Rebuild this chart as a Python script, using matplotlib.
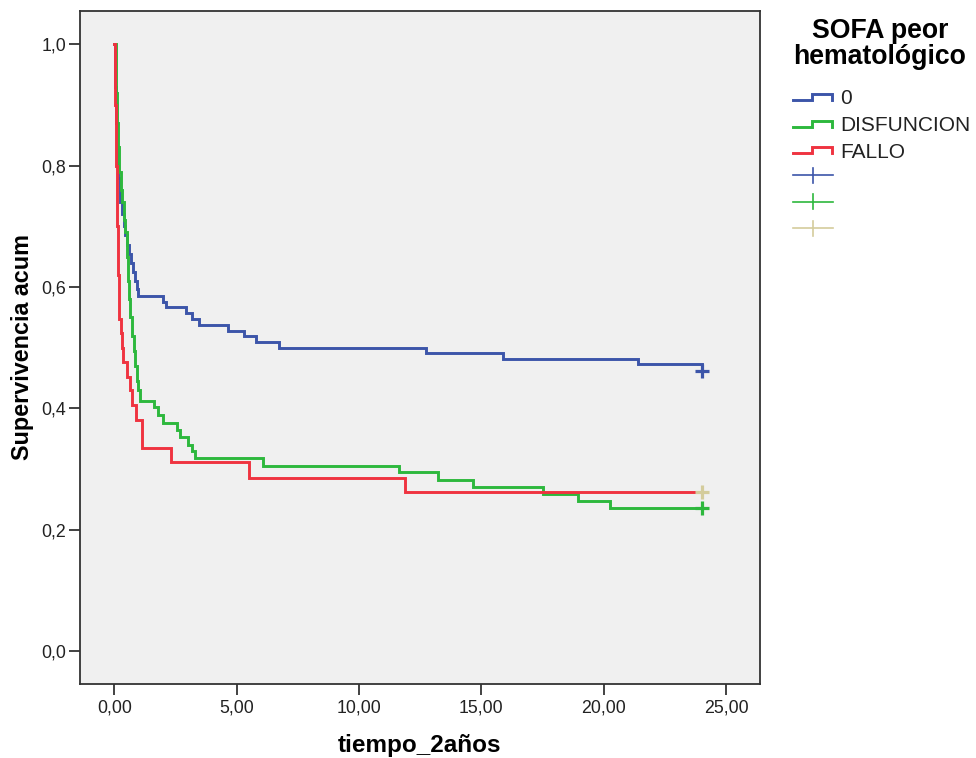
import numpy as np
import matplotlib
matplotlib.use("Agg")
import matplotlib.pyplot as plt
from matplotlib.lines import Line2D

plt.rcParams['font.family'] = ['Liberation Sans', 'DejaVu Sans']

# curvas de Kaplan-Meier (tiempo, supervivencia acumulada)
t_cero = [0, 0.04, 0.08, 0.12, 0.16, 0.22, 0.30, 0.38, 0.45, 0.52, 0.60, 0.68, 0.76, 0.85, 0.92, 0.98,
          2.00, 2.10, 2.91, 3.18, 3.46, 4.63, 5.30, 5.79, 6.74, 12.74, 15.88, 21.40, 24.0]
s_cero = [1.0, 0.93, 0.87, 0.82, 0.78, 0.74, 0.72, 0.70, 0.685, 0.67, 0.655, 0.64, 0.625, 0.61, 0.597, 0.585,
          0.576, 0.567, 0.557, 0.547, 0.537, 0.528, 0.519, 0.510, 0.500, 0.491, 0.481, 0.473, 0.4615]

t_disf = [0, 0.05, 0.10, 0.15, 0.20, 0.25, 0.30, 0.38, 0.45, 0.50, 0.55, 0.60, 0.65, 0.72, 0.80, 0.86, 0.92, 0.98,
          1.04, 1.63, 1.80, 1.98, 2.56, 2.68, 3.00, 3.17, 3.29, 6.07, 11.64, 13.22, 14.65, 17.54, 18.94, 20.27, 24.0]
s_disf = [1.0, 0.92, 0.87, 0.83, 0.79, 0.76, 0.74, 0.71, 0.69, 0.65, 0.61, 0.58, 0.55, 0.52, 0.495, 0.47, 0.445, 0.43,
          0.4125, 0.402, 0.389, 0.376, 0.364, 0.352, 0.340, 0.329, 0.318, 0.3055, 0.295, 0.282, 0.271, 0.259, 0.247, 0.235, 0.235]

t_fallo = [0, 0.02, 0.04, 0.06, 0.08, 0.10, 0.12, 0.14, 0.16, 0.18, 0.20, 0.26, 0.30, 0.36, 0.50, 0.62, 0.72, 0.88,
           1.12, 2.31, 5.51, 11.88, 24.0]
s_fallo = [1.0, 0.95, 0.90, 0.85, 0.80, 0.74, 0.70, 0.66, 0.62, 0.57, 0.548, 0.524, 0.50, 0.476, 0.452, 0.43, 0.405, 0.381,
           0.334, 0.311, 0.2857, 0.2626, 0.2626]

# censurados al final
cens_t = [24.0, 24.0, 24.0]
cens_s = [0.4615, 0.235, 0.2626]

grupos = ['0', 'DISFUNCION', 'FALLO']
azul = '#3c55a9'
verde = '#2db83d'
rojo = '#ef3340'
beige = '#d4cc9c'
colores = [azul, verde, rojo]
colores_cens = [azul, verde, beige]

W, H = 976, 758
fig = plt.figure(figsize=(W / 100, H / 100), dpi=100)
ax = fig.add_axes([80 / W, 1 - 684 / H, 680 / W, 673 / H])
ax.set_facecolor('#f0f0f0')

for t, s, c in [(t_cero, s_cero, azul), (t_disf, s_disf, verde), (t_fallo, s_fallo, rojo)]:
    ax.step(t, s, where='post', color=c, lw=2.1, solid_joinstyle='miter')

for t, s, c in zip(cens_t, cens_s, colores_cens):
    ax.plot(t, s, marker='+', ms=10, mew=2.3, color=c, ls='none')

ax.set_xlim(-1.406, 26.39)
ax.set_ylim(-0.0544, 1.0549)
xt = np.arange(0, 26, 5)
yt = np.arange(0, 1.01, 0.2)
ax.set_xticks(xt)
ax.set_xticklabels([f"{v:.2f}".replace('.', ',') for v in xt])
ax.set_yticks(yt)
ax.set_yticklabels([f"{v:.1f}".replace('.', ',') for v in yt])
ax.tick_params(direction='out', length=8, width=1.3, color='#333333', labelsize=12.8,
               labelcolor='#222222')
ax.tick_params(axis='x', pad=3)
ax.tick_params(axis='y', pad=2)
for sp in ax.spines.values():
    sp.set_color('#333333')
    sp.set_linewidth(1.3)

ax.set_xlabel('tiempo_2años', fontsize=17.5, fontweight='bold', labelpad=13)
ax.set_ylabel('Supervivencia acum', fontsize=16.8, fontweight='bold', labelpad=5)

# leyenda estilo SPSS
def fx(x):
    return x / W

def fy(y):
    return 1 - y / H

fig.text(fx(880), fy(44), 'SOFA peor\nhematológico', ha='center', va='center',
         fontsize=19.2, fontweight='bold', linespacing=1.0)

filas = [100, 126.7, 153.3]
for y, c, nombre in zip(filas, colores, grupos):
    xs = [793, 812, 812, 832, 832]
    ys = [y, y, y - 6, y - 6, y]
    fig.add_artist(Line2D([fx(v) for v in xs], [fy(v) for v in ys], color=c, lw=2.1,
                          solid_joinstyle='miter'))
    fig.text(fx(840), fy(y - 1), nombre, ha='left', va='center', fontsize=15, color='#222222')

filas_c = [175, 201.7, 228.3]
for y, c in zip(filas_c, colores_cens):
    fig.add_artist(Line2D([fx(793), fx(833)], [fy(y), fy(y)], color=c, lw=1.2))
    fig.add_artist(Line2D([fx(813), fx(813)], [fy(y - 7.5), fy(y + 7.5)], color=c, lw=1.2))

fig.savefig('out.png', dpi=100)
